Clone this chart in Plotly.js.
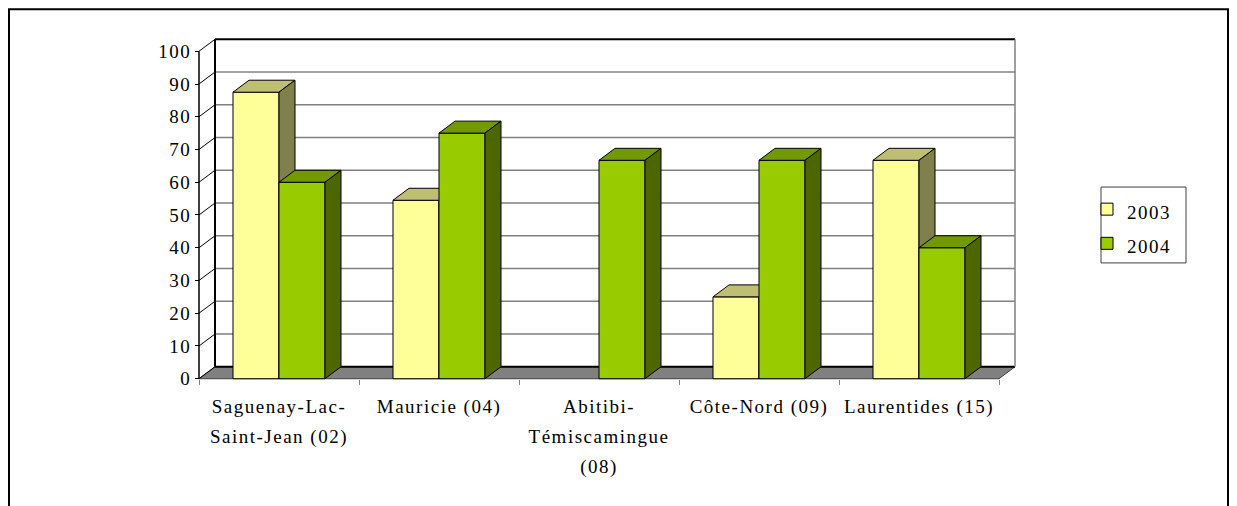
<!DOCTYPE html>
<html><head><meta charset="utf-8">
<script src="https://cdn.plot.ly/plotly-3.0.1.min.js"></script>
<style>html,body{margin:0;padding:0;background:#fff;}#chart{width:1237px;height:506px;}</style>
</head><body><div id="chart"></div>
<script>
// ---------- data ----------
const categoryLines = [
  ['Saguenay-Lac-', 'Saint-Jean (02)'],
  ['Mauricie (04)'],
  ['Abitibi-', 'Témiscamingue', '(08)'],
  ['Côte-Nord (09)'],
  ['Laurentides (15)']
];
const seriesNames = ['2003', '2004'];
const values2003 = [87.5, 54.5, null, 25, 66.7];
const values2004 = [60, 75, 66.7, 66.7, 40];
const yTickValues = [0, 10, 20, 30, 40, 50, 60, 70, 80, 90, 100];

// ---------- geometry / style ----------
const W = 1237, H = 506;
const PX_X0 = 199, KX = 160;      // front plane: x pixel of 0, px per category
const PX_Y0 = 379, KY = 3.28;     // front plane: y pixel of 0, px per unit
const DX = 16 / KX, DY = 12 / KY; // depth offset in data units
const BAR_W = 46 / KX;
const N = categoryLines.length;
const xRange = [-0.1, N + DX + 0.1];
const yRange = [-1, 100 + DY + 1];
const plotW = (xRange[1] - xRange[0]) * KX;
const plotH = (yRange[1] - yRange[0]) * KY;
const mL = PX_X0 + xRange[0] * KX;
const mR = W - mL - plotW;
const plotBottom = PX_Y0 + (0 - yRange[0]) * KY;
const mB = H - plotBottom;
const mT = plotBottom - plotH;
const FONT = 'Liberation Serif';
const SPAN = s => '<span style="font-size:19px;letter-spacing:1.5px">' + s + '</span>';

const colors = {
  '2003': {front: '#FFFF99', top: '#BFBF73', side: '#80804D'},
  '2004': {front: '#99CC00', top: '#739900', side: '#4D6600'}
};

function barTraces(name, vals, offsetSign, xa) {
  const c = colors[name];
  const centers = vals.map((v, i) => i + 0.5);
  const top = {x: [], y: []}, side = {x: [], y: []};
  vals.forEach((v, i) => {
    if (v == null) return;
    const a = centers[i] + (offsetSign < 0 ? -BAR_W : 0), b = a + BAR_W;
    top.x.push(a, b, b + DX, a + DX, a, null);
    top.y.push(v, v, v + DY, v + DY, v, null);
    side.x.push(b, b + DX, b + DX, b, b, null);
    side.y.push(0, DY, v + DY, v, 0, null);
  });
  return [
    {type: 'bar', name: SPAN(name), x: centers, y: vals, xaxis: xa, yaxis: 'y',
     width: BAR_W, offset: offsetSign < 0 ? -BAR_W : 0,
     marker: {color: c.front, line: {color: '#000', width: 1}}, hoverinfo: 'skip'},
    {type: 'scatter', mode: 'lines', x: top.x, y: top.y, xaxis: xa, yaxis: 'y',
     fill: 'toself', fillcolor: c.top, line: {color: '#000', width: 1},
     showlegend: false, hoverinfo: 'skip'},
    {type: 'scatter', mode: 'lines', x: side.x, y: side.y, xaxis: xa, yaxis: 'y',
     fill: 'toself', fillcolor: c.side, line: {color: '#000', width: 1},
     showlegend: false, hoverinfo: 'skip'}
  ];
}

const data = [
  ...barTraces(seriesNames[0], values2003, -1, 'x'),
  ...barTraces(seriesNames[1], values2004, 0, 'x2')
];

// ---------- decorations ----------
const shapes = [];
const ln = (x0, y0, x1, y1, color, width) => shapes.push({type: 'line', xref: 'x', yref: 'y',
  x0, y0, x1, y1, line: {color, width}, layer: 'below'});
// floor
shapes.push({type: 'path', xref: 'x', yref: 'y', layer: 'below',
  path: `M0,0 L${N},0 L${N + DX},${DY} L${DX},${DY} Z`,
  fillcolor: '#808080', line: {color: '#404040', width: 1}});
// back wall gridlines
yTickValues.slice(1, -1).forEach(v => ln(DX, v + DY, N + DX, v + DY, '#808080', 1.5));
// side wall lines
yTickValues.forEach(v => ln(0, v, DX, v + DY, '#000', 1));
ln(DX, 100 + DY, N + DX, 100 + DY, '#000', 2);
ln(DX, DY, DX, 100 + DY, '#000', 2);
ln(DX, DY, N + DX, DY, '#000', 2);
ln(N + DX, DY, N + DX, 100 + DY, '#808080', 1.5);
ln(0, 0, 0, 100, '#000', 1.5);
// outer frame
const px2x = px => (px - mL) / plotW, px2y = py => (plotBottom - py) / plotH;
shapes.push({type: 'rect', xref: 'paper', yref: 'paper', layer: 'below',
  x0: px2x(9), x1: px2x(1228), y0: px2y(530), y1: px2y(9),
  line: {color: '#000', width: 2}, fillcolor: 'rgba(0,0,0,0)'});
// legend box
shapes.push({type: 'rect', xref: 'paper', yref: 'paper', layer: 'below',
  x0: px2x(1101), x1: px2x(1186), y0: px2y(263), y1: px2y(187),
  line: {color: '#404040', width: 1}, fillcolor: '#fff'});

const xPos = (0 - yRange[0]) / (yRange[1] - yRange[0]);
const yPos = (0 - xRange[0]) / (xRange[1] - xRange[0]);

const layout = {
  width: W, height: H, autosize: false,
  margin: {l: mL, r: mR, t: mT, b: mB, pad: 0},
  paper_bgcolor: '#fff', plot_bgcolor: 'rgba(0,0,0,0)',
  font: {family: FONT, color: '#000'},
  showlegend: true,
  hovermode: false,
  xaxis: {range: xRange, tickvals: categoryLines.map((l, i) => i + 0.5),
    ticktext: categoryLines.map(lines => lines.map(SPAN).join('<br>')),
    tickfont: {family: FONT, size: 23, color: '#000'}, tickangle: 0,
    ticks: '', showgrid: false, zeroline: false, showline: false,
    anchor: 'free', position: xPos, ticklabelstandoff: 10, fixedrange: true},
  xaxis2: {range: xRange, overlaying: 'x', tickvals: [0, 1, 2, 3, 4, 5],
    showticklabels: false, ticks: 'outside', ticklen: 5, tickwidth: 1, tickcolor: '#808080',
    showgrid: false, zeroline: false, showline: false,
    anchor: 'free', position: xPos, side: 'bottom', fixedrange: true},
  yaxis: {range: yRange, tickvals: yTickValues,
    ticktext: yTickValues.map(v => '<span style="letter-spacing:1.5px">' + v + '</span>'),
    tickfont: {family: FONT, size: 19, color: '#000'},
    ticks: 'outside', ticklen: 4, tickwidth: 1, tickcolor: '#000',
    showgrid: false, zeroline: false, showline: false,
    anchor: 'free', position: yPos, fixedrange: true},
  legend: {x: px2x(1087), y: px2y(187),
    xanchor: 'left', yanchor: 'top', bgcolor: 'rgba(0,0,0,0)',
    borderwidth: 0,
    font: {family: FONT, size: 24, color: '#000'}, traceorder: 'normal'},
  shapes: shapes
};

Plotly.newPlot('chart', data, layout, {staticPlot: true, displayModeBar: false});
</script>
</body></html>
